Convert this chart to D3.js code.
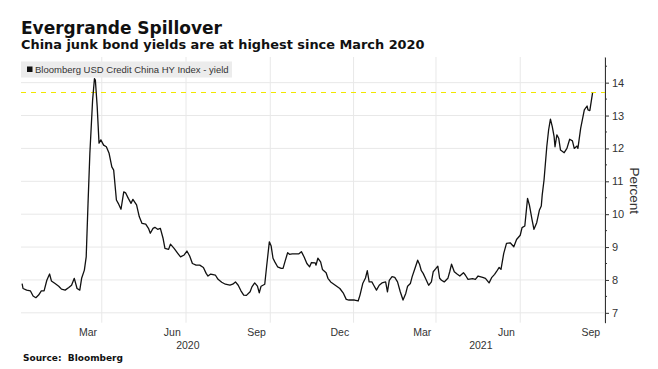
<!DOCTYPE html>
<html><head><meta charset="utf-8">
<script src="https://cdn.jsdelivr.net/npm/d3@7"></script>
<style>body{margin:0;background:#fff} svg{display:block}</style>
</head><body><svg id="c" width="658" height="369"></svg>
<script>
const titleText = "Evergrande Spillover";
const subtitleText = "China junk bond yields are at highest since March 2020";
const legendText = "Bloomberg USD Credit China HY Index - yield";
const sourceText = "Source:  Bloomberg";
const axisTitle = "Percent";

const dates = ["2019-12-20","2019-12-21","2019-12-25","2019-12-29","2020-01-01","2020-01-04","2020-01-07","2020-01-10","2020-01-13","2020-01-16",
"2020-01-19","2020-01-21","2020-01-25","2020-01-29","2020-02-01","2020-02-05","2020-02-09","2020-02-12","2020-02-15","2020-02-18",
"2020-02-21","2020-02-23","2020-02-26","2020-02-28","2020-03-01","2020-03-03","2020-03-06","2020-03-08","2020-03-09","2020-03-11",
"2020-03-13","2020-03-15","2020-03-18","2020-03-21","2020-03-24","2020-03-27","2020-03-29","2020-04-01","2020-04-03","2020-04-06",
"2020-04-09","2020-04-11","2020-04-14","2020-04-17","2020-04-19","2020-04-23","2020-04-26","2020-04-29","2020-05-03","2020-05-06",
"2020-05-08","2020-05-11","2020-05-13","2020-05-16","2020-05-19","2020-05-22","2020-05-24","2020-05-28","2020-05-30","2020-06-03",
"2020-06-07","2020-06-10","2020-06-14","2020-06-17","2020-06-20","2020-06-23","2020-06-27","2020-07-01","2020-07-05","2020-07-08",
"2020-07-10","2020-07-13","2020-07-18","2020-07-21","2020-07-25","2020-07-29","2020-08-03","2020-08-06","2020-08-09","2020-08-12",
"2020-08-15","2020-08-18","2020-08-21","2020-08-25","2020-08-27","2020-08-30","2020-09-02","2020-09-04","2020-09-06","2020-09-10",
"2020-09-12","2020-09-15","2020-09-17","2020-09-19","2020-09-21","2020-09-24","2020-09-28","2020-09-30","2020-10-02","2020-10-05",
"2020-10-07","2020-10-10","2020-10-17","2020-10-20","2020-10-23","2020-10-26","2020-10-29","2020-10-31","2020-11-04","2020-11-05",
"2020-11-07","2020-11-10","2020-11-12","2020-11-16","2020-11-18","2020-11-21","2020-11-26","2020-12-01","2020-12-05","2020-12-08",
"2020-12-11","2020-12-17","2020-12-21","2020-12-23","2020-12-26","2020-12-29","2020-12-31","2021-01-02","2021-01-05","2021-01-07",
"2021-01-10","2021-01-13","2021-01-16","2021-01-20","2021-01-22","2021-01-24","2021-01-27","2021-01-30","2021-02-02","2021-02-05",
"2021-02-08","2021-02-11","2021-02-13","2021-02-16","2021-02-18","2021-02-21","2021-02-24","2021-02-26","2021-02-28","2021-03-02",
"2021-03-05","2021-03-08","2021-03-11","2021-03-13","2021-03-16","2021-03-18","2021-03-20","2021-03-22","2021-03-25","2021-03-29",
"2021-03-31","2021-04-02","2021-04-05","2021-04-08","2021-04-11","2021-04-15","2021-04-17","2021-04-20","2021-04-25","2021-04-28",
"2021-05-01","2021-05-06","2021-05-09","2021-05-13","2021-05-16","2021-05-19","2021-05-21","2021-05-24","2021-05-26","2021-05-29",
"2021-06-01","2021-06-05","2021-06-09","2021-06-12","2021-06-16","2021-06-18","2021-06-21","2021-06-24","2021-06-26","2021-06-29",
"2021-07-01","2021-07-04","2021-07-07","2021-07-09","2021-07-10","2021-07-12","2021-07-15","2021-07-17","2021-07-19","2021-07-21",
"2021-07-23","2021-07-24","2021-07-26","2021-07-28","2021-07-30","2021-08-03","2021-08-06","2021-08-09","2021-08-12","2021-08-14",
"2021-08-17","2021-08-18","2021-08-21","2021-08-23","2021-08-25","2021-08-28","2021-08-29","2021-08-31","2021-09-03"];

const yields = [7.89,7.74,7.69,7.67,7.51,7.46,7.54,7.67,7.67,7.99,
8.18,7.97,7.89,7.81,7.72,7.69,7.77,7.84,8.05,7.74,
7.69,8.05,8.30,8.70,10.33,11.85,13.47,14.12,14.08,13.27,
12.16,12.26,12.10,12.05,11.85,11.44,11.34,10.43,10.33,10.15,
10.68,10.65,10.48,10.33,10.45,10.28,9.92,9.72,9.70,9.57,
9.42,9.57,9.60,9.54,9.57,9.26,8.96,8.93,9.09,8.96,
8.81,8.70,8.76,8.88,8.73,8.50,8.45,8.45,8.38,8.20,
8.12,8.18,8.15,8.02,7.93,7.87,7.84,7.87,7.94,7.84,
7.67,7.54,7.53,7.64,7.79,7.91,7.81,7.61,7.81,7.87,
8.40,9.16,9.03,8.66,8.55,8.40,8.35,8.35,8.55,8.83,
8.78,8.79,8.79,8.86,8.70,8.50,8.40,8.53,8.52,8.45,
8.66,8.55,8.32,8.22,8.05,7.94,7.84,7.74,7.59,7.41,
7.39,7.39,7.36,7.54,7.89,8.06,8.28,7.94,7.94,7.84,
7.69,7.84,7.91,7.94,7.64,7.99,8.10,8.08,7.94,7.64,
7.39,7.59,7.81,7.89,8.10,8.35,8.60,8.48,8.28,8.20,
8.02,7.84,7.94,8.25,8.35,8.42,8.05,7.99,7.94,8.05,
8.25,8.48,8.25,8.18,8.12,8.22,8.15,8.02,8.04,8.02,
8.12,8.08,8.05,7.91,8.08,8.17,8.25,8.38,8.32,8.81,
9.11,9.13,9.01,9.23,9.36,9.59,9.64,10.48,10.28,9.82,
9.54,9.74,10.13,10.25,10.58,11.04,12.05,12.56,12.89,12.66,
12.36,12.05,12.41,12.31,11.95,11.87,12.00,12.28,12.23,12.00,
12.07,12.00,12.61,12.89,13.17,13.29,13.17,13.15,13.69];

const yTicks = [7, 8, 9, 10, 11, 12, 13, 14];
const yMinorTicks = [7.5, 8.5, 9.5, 10.5, 11.5, 12.5, 13.5, 14.5];
const monthTickDates = ["2020-03-01","2020-06-01","2020-09-01","2020-12-01","2021-03-01","2021-06-01","2021-09-01"];
const monthTickLabels = ["Mar","Jun","Sep","Dec","Mar","Jun","Sep"];
const yearLabels = ["2020","2021"];
const yearLabelDates = ["2020-06-18","2021-05-04"];
const referenceLevel = 13.7;

const parse = d3.timeParse("%Y-%m-%d");
const data = dates.map((d, i) => ({date: parse(d), value: yields[i]}));

const svg = d3.select("#c");
const W = 658, H = 369;
const plot = {left: 21, right: 605, top: 57, bottom: 322.7};

svg.append("rect").attr("width", W).attr("height", H).attr("fill", "#fff");

const x = d3.scaleTime()
  .domain([new Date(2019, 11, 18, 19), new Date(2021, 8, 16, 14)])
  .range([plot.left, plot.right]);
const y = d3.scaleLinear().domain([6.7, 14.78]).range([plot.bottom, plot.top]);

const labelFont = "'Liberation Sans', Arial, sans-serif";
const boldFont = "'DejaVu Sans', Verdana, sans-serif";

// Title & subtitle
svg.append("text").attr("x", 21).attr("y", 34)
  .attr("font-family", boldFont).attr("font-weight", "bold").attr("font-size", 17)
  .attr("fill", "#111").text(titleText);
svg.append("text").attr("x", 21).attr("y", 49)
  .attr("font-family", boldFont).attr("font-weight", "bold").attr("font-size", 12.9)
  .attr("fill", "#111").text(subtitleText);

// gridlines
const g = svg.append("g");
g.selectAll("line.h").data(yTicks).join("line")
  .attr("x1", plot.left).attr("x2", plot.right)
  .attr("y1", d => y(d)).attr("y2", d => y(d))
  .attr("stroke", "#e8e8e8").attr("stroke-width", 1);
g.selectAll("line.v").data(monthTickDates.map(d => d3.timeDay.offset(parse(d), 15)))
  .join("line")
  .attr("x1", d => x(d)).attr("x2", d => x(d))
  .attr("y1", plot.top).attr("y2", plot.bottom)
  .attr("stroke", "#e8e8e8").attr("stroke-width", 1);

// legend
svg.append("rect").attr("x", 21).attr("y", 61.5).attr("width", 211).attr("height", 16)
  .attr("fill", "#ececec");
svg.append("rect").attr("x", 27).attr("y", 66.5).attr("width", 5.5).attr("height", 5.5)
  .attr("fill", "#111");
svg.append("text").attr("x", 35).attr("y", 73.2)
  .attr("font-family", labelFont).attr("font-size", 9.5).attr("fill", "#333")
  .text(legendText);

// reference dashed line
svg.append("line")
  .attr("x1", plot.left).attr("x2", plot.right)
  .attr("y1", y(referenceLevel)).attr("y2", y(referenceLevel))
  .attr("stroke", "#f2e600").attr("stroke-width", 1.2).attr("stroke-dasharray", "5,5");

// data line
const line = d3.line().x(d => x(d.date)).y(d => y(d.value)).curve(d3.curveLinear);
svg.append("path").datum(data).attr("d", line)
  .attr("fill", "none").attr("stroke", "#111").attr("stroke-width", 1.3)
  .attr("stroke-linejoin", "round");

// right axis
const axis = d3.axisRight(y).tickValues(yTicks).tickSize(4).tickSizeOuter(0).tickPadding(3)
  .tickFormat(d3.format("d"));
const ag = svg.append("g").attr("transform", `translate(${plot.right},0)`).call(axis);
ag.select(".domain").attr("stroke", "#333");
ag.selectAll(".tick line").attr("stroke", "#333");
ag.selectAll(".tick text").attr("font-family", labelFont).attr("font-size", 11).attr("fill", "#333");
ag.selectAll("line.minor").data(yMinorTicks).join("line").attr("class", "minor")
  .attr("x1", 0).attr("x2", 2).attr("y1", d => y(d)).attr("y2", d => y(d))
  .attr("stroke", "#333");

svg.append("text")
  .attr("transform", `translate(630,${(plot.top + plot.bottom) / 2 + 1}) rotate(90)`)
  .attr("text-anchor", "middle")
  .attr("font-family", labelFont).attr("font-size", 13.5).attr("fill", "#333")
  .text(axisTitle);

// x labels
svg.selectAll("text.mon").data(monthTickDates).join("text").attr("class", "mon")
  .attr("x", d => x(parse(d))).attr("y", 335.5).attr("text-anchor", "middle")
  .attr("font-family", labelFont).attr("font-size", 10.5).attr("fill", "#333")
  .text((d, i) => monthTickLabels[i]);
svg.selectAll("text.yr").data(yearLabelDates).join("text").attr("class", "yr")
  .attr("x", d => x(parse(d))).attr("y", 348.5).attr("text-anchor", "middle")
  .attr("font-family", labelFont).attr("font-size", 10.5).attr("fill", "#333")
  .text((d, i) => yearLabels[i]);

// source
svg.append("text").attr("x", 23).attr("y", 360.5)
  .attr("font-family", boldFont).attr("font-weight", "bold").attr("font-size", 9)
  .attr("fill", "#111").attr("xml:space", "preserve").style("white-space", "pre")
  .text(sourceText);
</script>
</body></html>
